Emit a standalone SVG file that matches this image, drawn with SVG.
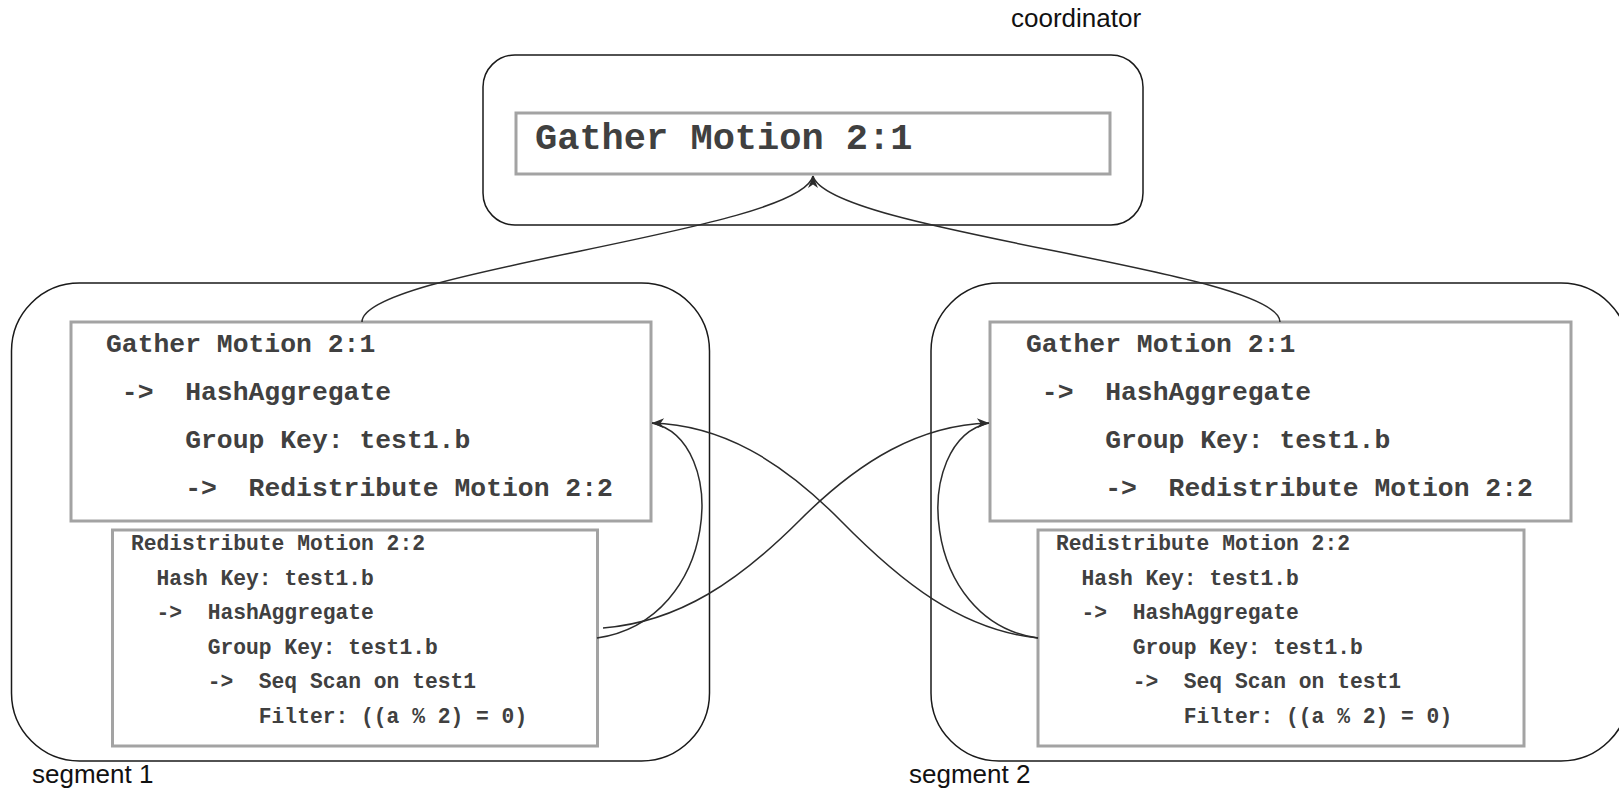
<svg xmlns="http://www.w3.org/2000/svg" width="1619" height="789" viewBox="0 0 1619 789">
<style>
.outer{fill:none;stroke:#1a1a1a;stroke-width:1.5}
.box{fill:#fff;stroke:#a3a3a3;stroke-width:3}
.mono{font-family:"Liberation Mono","Courier New",monospace;font-weight:bold;fill:#404040;white-space:pre}
.big{font-size:37px}
.mid{font-size:26.4px}
.small{font-size:21.3px}
.lbl{font-family:"Liberation Sans",Arial,sans-serif;font-size:26px;fill:#111}
.edge{fill:none;stroke:#2b2b2b;stroke-width:1.5}
</style>
<defs>
<marker id="ah" viewBox="-13 -6 14 12" refX="0" refY="0" markerWidth="14" markerHeight="12" markerUnits="userSpaceOnUse" orient="auto"><path d="M0,0 L-12,-5 L-8.5,0 L-12,5 Z" fill="#2b2b2b"/></marker>
<marker id="ahup" viewBox="-13 -6 14 12" refX="0" refY="0" markerWidth="14" markerHeight="12" markerUnits="userSpaceOnUse" orient="270"><path d="M0,0 L-12,-5 L-8.5,0 L-12,5 Z" fill="#2b2b2b"/></marker>
</defs>
<rect width="1619" height="789" fill="#fff"/>

<g id="coordinator">
<rect class="outer" x="483" y="55" width="660" height="170" rx="32" ry="32"/>
<text class="lbl" x="1011" y="27">coordinator</text>
</g>
<g id="coord-gather">
<rect class="box" x="516" y="113" width="594" height="61"/>
<text class="mono big" x="535" y="149">Gather Motion 2:1</text>
</g>

<g id="segment1">
<rect class="outer" x="11.5" y="283" width="698" height="478" rx="68" ry="68"/>
<text class="lbl" x="32" y="783">segment 1</text>
</g>
<g id="seg1-gather">
<rect class="box" x="71" y="322" width="580" height="199"/>
<text class="mono mid" x="106" y="352">Gather Motion 2:1</text>
<text class="mono mid" y="400"><tspan x="121.8">-&gt;</tspan><tspan x="185.2">HashAggregate</tspan></text>
<text class="mono mid" x="185.2" y="448">Group Key: test1.b</text>
<text class="mono mid" y="496"><tspan x="185.2">-&gt;</tspan><tspan x="248.6">Redistribute Motion 2:2</tspan></text>
</g>
<g id="seg1-redistribute">
<rect class="box" x="112.5" y="530" width="485" height="216"/>
<text class="mono small" x="131" y="550">Redistribute Motion 2:2</text>
<text class="mono small" x="156.6" y="584.5">Hash Key: test1.b</text>
<text class="mono small" y="619"><tspan x="156.6">-&gt;</tspan><tspan x="207.7">HashAggregate</tspan></text>
<text class="mono small" x="207.7" y="653.5">Group Key: test1.b</text>
<text class="mono small" y="688"><tspan x="207.7">-&gt;</tspan><tspan x="258.8">Seq Scan on test1</tspan></text>
<text class="mono small" x="258.8" y="722.5">Filter: ((a % 2) = 0)</text>
</g>

<g id="segment2">
<rect class="outer" x="931" y="283" width="698" height="478" rx="68" ry="68"/>
<text class="lbl" x="909" y="783">segment 2</text>
</g>
<g id="seg2-gather">
<rect class="box" x="990" y="322" width="581" height="199"/>
<text class="mono mid" x="1026" y="352">Gather Motion 2:1</text>
<text class="mono mid" y="400"><tspan x="1041.8">-&gt;</tspan><tspan x="1105.2">HashAggregate</tspan></text>
<text class="mono mid" x="1105.2" y="448">Group Key: test1.b</text>
<text class="mono mid" y="496"><tspan x="1105.2">-&gt;</tspan><tspan x="1168.6">Redistribute Motion 2:2</tspan></text>
</g>
<g id="seg2-redistribute">
<rect class="box" x="1038" y="530" width="486" height="216"/>
<text class="mono small" x="1056" y="550">Redistribute Motion 2:2</text>
<text class="mono small" x="1081.6" y="584.5">Hash Key: test1.b</text>
<text class="mono small" y="619"><tspan x="1081.6">-&gt;</tspan><tspan x="1132.7">HashAggregate</tspan></text>
<text class="mono small" x="1132.7" y="653.5">Group Key: test1.b</text>
<text class="mono small" y="688"><tspan x="1132.7">-&gt;</tspan><tspan x="1183.8">Seq Scan on test1</tspan></text>
<text class="mono small" x="1183.8" y="722.5">Filter: ((a % 2) = 0)</text>
</g>

<g id="connectors">
<path class="edge" d="M 362 322 C 362 270, 800 232, 813 176" marker-end="url(#ahup)"/>
<path class="edge" d="M 1280 322 C 1280 270, 828 232, 813 176"/>
<path class="edge" d="M 597 638 C 720 620, 730 440, 652 423"/>
<path class="edge" d="M 603 628 C 680 622, 740 580, 800 520 S 920 425, 989 423" marker-end="url(#ah)"/>
<path class="edge" d="M 1038 638 C 920 622, 910 440, 989 423"/>
<path class="edge" d="M 1038 638 C 961 630, 901 582, 841 521 S 721 425, 652 423" marker-end="url(#ah)"/>
</g>
</svg>
